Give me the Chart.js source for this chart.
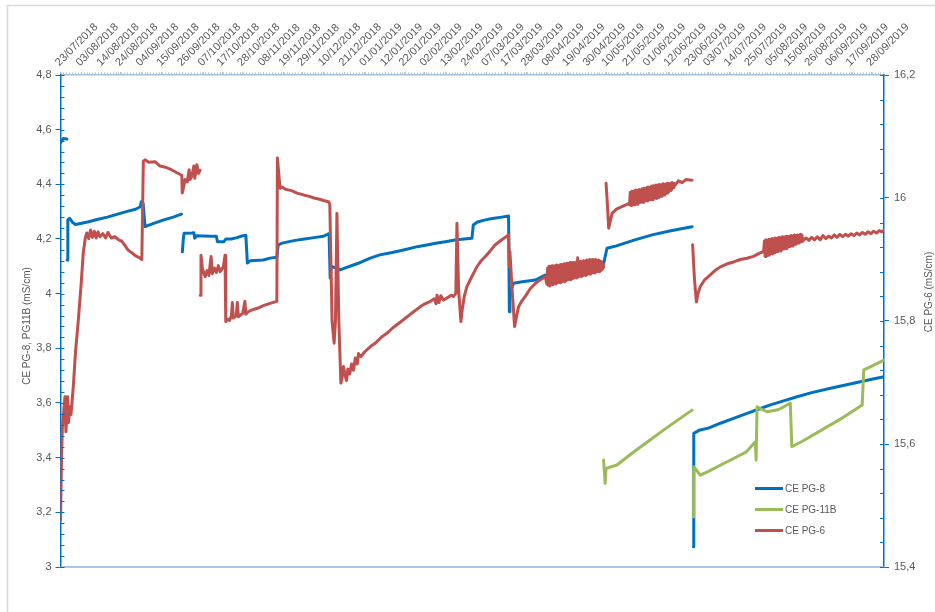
<!DOCTYPE html>
<html>
<head>
<meta charset="utf-8">
<script src="https://cdn.jsdelivr.net/npm/chart.js@4.4.1/dist/chart.umd.min.js"></script>
<style>
  html, body { margin: 0; padding: 0; background: #fff; }
  #wrap { position: relative; width: 935px; height: 612px; }
</style>
</head>
<body>
<div id="wrap"><canvas id="ceChart" width="935" height="612"></canvas></div>
<script>
// x values are days counted from 23/07/2018
const tickLabels = ['23/07/2018','03/08/2018','14/08/2018','24/08/2018','04/09/2018','15/09/2018','26/09/2018',
  '07/10/2018','17/10/2018','28/10/2018','08/11/2018','19/11/2018','29/11/2018','10/12/2018','21/12/2018',
  '01/01/2019','12/01/2019','22/01/2019','02/02/2019','13/02/2019','24/02/2019','07/03/2019','17/03/2019',
  '28/03/2019','08/04/2019','19/04/2019','30/04/2019','10/05/2019','21/05/2019','01/06/2019','12/06/2019',
  '23/06/2019','03/07/2019','14/07/2019','25/07/2019','05/08/2019','15/08/2019','26/08/2019','06/09/2019',
  '17/09/2019','28/09/2019'];

const seriesNames = ['CE PG-8', 'CE PG-11B', 'CE PG-6'];

// CE PG-8 (left axis)
const pg8 = [
  [0, 4.552], [1.5, 4.568], [3.4, 4.566], [3.45, null],
  [3.5, 4.123], [3.9, 4.27], [4.8, 4.276], [6.5, 4.26], [8, 4.253], [10, 4.256], [15, 4.263], [20, 4.272],
  [25, 4.28], [30, 4.29], [35, 4.3], [40, 4.309], [42.5, 4.318], [43.0, 4.336], [44.0, 4.33], [45.0, 4.245],
  [50, 4.258], [55, 4.27], [60, 4.28], [64.4, 4.291], [64.6, null],
  [64.9, 4.153], [65.4, 4.2], [65.8, 4.221], [70, 4.222], [71, 4.223], [71.5, 4.203], [72.5, 4.212], [80, 4.21],
  [83, 4.21], [83.6, 4.19], [87, 4.19], [88, 4.2], [91, 4.2], [94, 4.205], [97, 4.212], [98.7, 4.213],
  [99.5, 4.112], [101, 4.12], [108, 4.123], [111.6, 4.13], [115.2, 4.133], [115.9, 4.178], [118, 4.185],
  [125, 4.195], [130, 4.2], [135, 4.205], [140, 4.21], [143.0, 4.22], [143.6, 4.057], [144.2, 4.1], [146, 4.095],
  [148.9, 4.087], [152, 4.095], [156, 4.105], [160, 4.115], [164.9, 4.13], [170, 4.142], [176, 4.15],
  [182.6, 4.16], [190, 4.172], [195, 4.178], [200.6, 4.185], [205, 4.19], [210, 4.196], [215, 4.2],
  [219.1, 4.203], [219.8, 4.251], [222, 4.262], [226.2, 4.27], [230, 4.275], [235, 4.28], [238.6, 4.284],
  [239.0, 3.934], [239.3, 4.0], [241.2, 4.038], [245, 4.043], [252.8, 4.05], [258.1, 4.068], [262, 4.075],
  [270.4, 4.087], [280, 4.1], [289.2, 4.11], [291.0, 4.166], [296, 4.175], [305, 4.195], [315, 4.215],
  [325, 4.23], [336.3, 4.245], [336.6, null],
  [337.0, 3.074], [337.2, 3.489], [340, 3.5], [345, 3.508], [351.4, 3.526], [358, 3.543], [365.6, 3.562],
  [372, 3.578], [378, 3.593], [385, 3.608], [392.2, 3.623], [400, 3.638], [410, 3.654], [418, 3.666],
  [425.9, 3.678], [432, 3.687], [438.5, 3.696]
];

// CE PG-11B (left axis)
const pg11b = [
  [289.2, 3.391], [290.0, 3.306], [290.5, 3.361], [296.3, 3.373], [305, 3.42], [315, 3.47], [325, 3.52],
  [336.3, 3.574], [336.6, null],
  [337.0, 3.184], [337.2, 3.367], [340.7, 3.336], [345, 3.35], [355, 3.385], [365, 3.42], [370, 3.458],
  [370.4, 3.391], [370.9, 3.586], [376.2, 3.568], [382, 3.575], [388.6, 3.599], [389.4, 3.44], [395, 3.46],
  [405, 3.5], [415, 3.54], [426.9, 3.593], [427.7, 3.721], [432, 3.735], [438.5, 3.757]
];

// CE PG-6 (right axis)
const pg6 = [
  [0, 15.476], [0.6, 15.585], [1.0, 15.628], [2.4, 15.677], [2.9, 15.62], [3.8, 15.677], [4.3, 15.635],
  [5.0, 15.66], [5.6, 15.648], [6.8, 15.693], [8.0, 15.75], [9.5, 15.802], [11.0, 15.86], [12.1, 15.91],
  [13.2, 15.935], [14.0, 15.943], [15.0, 15.934], [16.0, 15.948], [17.0, 15.936], [18.0, 15.946],
  [19.0, 15.935], [20.0, 15.945], [21.0, 15.937], [22.5, 15.942], [24.0, 15.935], [25.3, 15.944],
  [27, 15.935], [29, 15.937], [31, 15.932], [32.6, 15.93], [34, 15.924], [36.1, 15.915], [38, 15.911],
  [40, 15.906], [42, 15.903], [43.3, 15.9],
  [44.1, 16.06], [45, 16.062], [47, 16.058], [50.3, 16.059], [53, 16.052], [56, 16.05], [59, 16.046],
  [62, 16.041], [64.6, 16.037], [64.8, 16.008], [65.5, 16.017], [66.3, 16.03], [67.5, 16.026], [68.5, 16.046],
  [69, 16.03], [70, 16.036], [71, 16.052], [71.5, 16.032], [72.6, 16.054], [73.5, 16.04], [74.3, 16.045],
  [74.35, null],
  [74.4, 15.842], [74.8, 15.907], [75.6, 15.885], [77.0, 15.872], [78, 15.882], [79, 15.874], [80.2, 15.905],
  [80.8, 15.877], [82, 15.886], [83, 15.879], [84.1, 15.89], [85, 15.88], [86.7, 15.888], [87.6, 15.907],
  [88.0, 15.799], [89, 15.803], [90, 15.801], [91, 15.808], [91.5, 15.83], [92, 15.805], [93.5, 15.808],
  [94.2, 15.83], [94.7, 15.807], [96, 15.81], [97, 15.812], [98.2, 15.832], [98.7, 15.811], [100, 15.815],
  [102, 15.818], [104, 15.82], [106, 15.822], [108, 15.825], [110, 15.827], [112, 15.829], [115.2, 15.832],
  [115.5, 16.065], [116.9, 16.016], [118, 16.018], [120, 16.014], [123, 16.012], [126, 16.008],
  [129.4, 16.005], [132, 16.003], [135, 16.0], [138, 15.998], [140, 15.996], [142.7, 15.994], [143.4, 15.99],
  [144.6, 15.8], [145.7, 15.764], [146.4, 15.8], [147.2, 15.975], [148.2, 15.8], [149.3, 15.699],
  [150, 15.71], [150.7, 15.726], [151.5, 15.712], [152.3, 15.703], [153, 15.722], [154, 15.714],
  [155, 15.73], [156, 15.72], [157, 15.74], [158, 15.73], [158.7, 15.747], [160, 15.742], [162, 15.75],
  [164.9, 15.758], [168, 15.765], [171, 15.774], [173.8, 15.78], [177, 15.789], [180, 15.796],
  [182.6, 15.802], [185, 15.808], [188, 15.815], [191.5, 15.823], [194, 15.828], [197, 15.832],
  [199, 15.836], [200, 15.828], [200.5, 15.842], [201.5, 15.83], [202.5, 15.841], [204, 15.834],
  [206, 15.838], [208, 15.842], [209.3, 15.84], [210.5, 15.845], [211.1, 15.959], [212, 15.85],
  [213.2, 15.799], [214, 15.82], [215, 15.84], [216.4, 15.856], [219, 15.872], [221.7, 15.888],
  [224, 15.898], [226.2, 15.905], [228.8, 15.914], [231.5, 15.924], [235, 15.932], [238.6, 15.94],
  [239.0, 15.888], [239.3, 15.913], [240.5, 15.85], [241.8, 15.791], [243, 15.81], [243.9, 15.823],
  [245.5, 15.832], [247.5, 15.84], [250, 15.852], [252.8, 15.861], [255, 15.866], [258.1, 15.872],
  // noisy stretch, April 2019
  [259.0, 15.860], [259.4, 15.886], [259.8, 15.858], [260.2, 15.889], [260.6, 15.857], [261.0, 15.887],
  [261.4, 15.860], [261.8, 15.890], [262.2, 15.859], [262.6, 15.888], [263.0, 15.861], [263.4, 15.890],
  [263.8, 15.860], [264.2, 15.891], [264.6, 15.862], [265.0, 15.889], [265.4, 15.863], [265.8, 15.891],
  [266.2, 15.862], [266.6, 15.892], [267.0, 15.864], [267.4, 15.890], [267.8, 15.865], [268.2, 15.893],
  [268.6, 15.864], [269.0, 15.892], [269.4, 15.866], [269.8, 15.894], [270.2, 15.867], [270.6, 15.892],
  [271.0, 15.868], [271.4, 15.895], [271.8, 15.867], [272.2, 15.893], [272.6, 15.869], [273.0, 15.895],
  [273.4, 15.870], [273.8, 15.894], [274.2, 15.871], [274.6, 15.896], [275.0, 15.870], [275.4, 15.903],
  [275.8, 15.872], [276.2, 15.896], [276.6, 15.873], [277.0, 15.897], [277.4, 15.872], [277.8, 15.896],
  [278.2, 15.874], [278.6, 15.898], [279.0, 15.875], [279.4, 15.897], [279.8, 15.874], [280.2, 15.899],
  [280.6, 15.876], [281.0, 15.898], [281.4, 15.877], [281.8, 15.900], [282.2, 15.876], [282.6, 15.899],
  [283.0, 15.878], [283.4, 15.900], [283.8, 15.879], [284.2, 15.899], [284.6, 15.878], [285.0, 15.900],
  [285.4, 15.880], [285.8, 15.898], [286.2, 15.881], [286.6, 15.899], [287.0, 15.880], [287.4, 15.897],
  [287.8, 15.882], [288.2, 15.896], [288.6, 15.884], [289.0, 15.892], [289.2, 15.888], [289.5, null],
  [290.5, 16.024], [291.2, 15.99], [291.9, 15.951], [293, 15.966], [293.7, 15.975], [296, 15.982],
  [299, 15.986], [302.5, 15.991],
  // noisy stretch, May 2019
  [303.0, 15.989], [303.4, 16.009], [303.8, 15.988], [304.2, 16.011], [304.6, 15.990], [305.0, 16.010],
  [305.4, 15.989], [305.8, 16.012], [306.2, 15.991], [306.6, 16.013], [307.0, 15.990], [307.4, 16.012],
  [307.8, 15.992], [308.2, 16.014], [308.6, 15.993], [309.0, 16.013], [309.4, 15.994], [309.8, 16.015],
  [310.2, 15.993], [310.6, 16.016], [311.0, 15.995], [311.4, 16.015], [311.8, 15.996], [312.2, 16.017],
  [312.6, 15.995], [313.0, 16.018], [313.4, 15.997], [313.8, 16.017], [314.2, 15.998], [314.6, 16.019],
  [315.0, 15.997], [315.4, 16.020], [315.8, 15.999], [316.2, 16.019], [316.6, 16.000], [317.0, 16.021],
  [317.4, 15.999], [317.8, 16.020], [318.2, 16.001], [318.6, 16.022], [319.0, 16.002], [319.4, 16.021],
  [319.8, 16.003], [320.2, 16.022], [320.6, 16.004], [321.0, 16.023], [321.4, 16.005], [321.8, 16.022],
  [322.2, 16.007], [322.6, 16.023], [323.0, 16.008], [323.4, 16.024], [323.8, 16.010], [324.2, 16.023],
  [324.6, 16.012], [325.0, 16.024], [325.4, 16.014], [325.8, 16.025], [326.2, 16.017], [326.6, 16.024],
  [327.0, 16.02], [329.1, 16.028], [331, 16.025], [333, 16.03], [336.3, 16.029], [336.4, null],
  [336.6, 15.924], [337, 15.9], [337.6, 15.867], [338.6, 15.831], [339.5, 15.845], [340.7, 15.856],
  [343, 15.867], [346, 15.875], [348.5, 15.882], [351.4, 15.888], [355, 15.893], [358.4, 15.896],
  [362, 15.9], [365.6, 15.902], [369, 15.905], [372, 15.91], [374.4, 15.913],
  // noisy stretch, August 2019
  [374.8, 15.930], [375.2, 15.905], [375.6, 15.932], [376.0, 15.906], [376.4, 15.931], [376.8, 15.907],
  [377.2, 15.933], [377.6, 15.908], [378.0, 15.932], [378.4, 15.910], [378.8, 15.934], [379.2, 15.909],
  [379.6, 15.933], [380.0, 15.911], [380.4, 15.935], [380.8, 15.912], [381.2, 15.934], [381.6, 15.913],
  [382.0, 15.935], [382.4, 15.915], [382.8, 15.936], [383.2, 15.914], [383.6, 15.935], [384.0, 15.916],
  [384.4, 15.937], [384.8, 15.917], [385.2, 15.936], [385.6, 15.919], [386.0, 15.937], [386.4, 15.918],
  [386.8, 15.938], [387.2, 15.920], [387.6, 15.937], [388.0, 15.921], [388.4, 15.938], [388.8, 15.923],
  [389.2, 15.939], [389.6, 15.922], [390.0, 15.938], [390.4, 15.924], [390.8, 15.940], [391.2, 15.925],
  [391.6, 15.939], [392.0, 15.926], [392.4, 15.940], [392.8, 15.927], [393.2, 15.939], [393.6, 15.928],
  [394.0, 15.941], [394.4, 15.929], [394.8, 15.940], [395.2, 15.930],
  [397, 15.935], [398.5, 15.931], [400, 15.936], [401.5, 15.932], [403, 15.937], [404.5, 15.932],
  [406, 15.939], [407.5, 15.934], [409, 15.938], [410.5, 15.935], [412, 15.940], [413.5, 15.936],
  [415, 15.941], [416.5, 15.937], [418, 15.941], [419.5, 15.938], [421, 15.942], [422.5, 15.939],
  [424, 15.943], [425.5, 15.940], [427, 15.944], [428.5, 15.941], [430, 15.945], [431.5, 15.942],
  [433, 15.946], [434.5, 15.943], [436, 15.947], [437.5, 15.945], [438.5, 15.948]
];

const colors = ['#0070C0', '#9BBB59', '#C0504D'];
const axisBlue = '#0070C0';
const textGrey = '#595959';
const numFont = { family: "'Liberation Sans', Arial, sans-serif", size: 11 };
const txtFont = "10px 'Liberation Sans', Arial, sans-serif";

// day offset of a dd/mm/yyyy label
const start = Date.UTC(2018, 6, 23);
function dayOf(label) {
  const [d, m, y] = label.split('/').map(Number);
  return Math.round((Date.UTC(y, m - 1, d) - start) / 86400000);
}
const tickDays = tickLabels.map(dayOf);

const toPoints = arr => arr.map(p => ({ x: p[0], y: p[1] }));
const comma = v => String(Math.round(v * 10) / 10).replace('.', ',');

// frame, minor ticks, bottom line, axis titles and legend
const decor = {
  id: 'decor',
  beforeDraw(chart) {
    const ctx = chart.ctx;
    ctx.save();
    ctx.fillStyle = '#fff';
    ctx.fillRect(0, 0, chart.width, chart.height);
    ctx.strokeStyle = '#D9D9D9';
    ctx.lineWidth = 1.5;
    ctx.strokeRect(7.5, 5.5, 1000, 1000);
    ctx.restore();
  },
  afterDraw(chart) {
    const { ctx, chartArea: a, scales } = chart;
    ctx.save();

    // bottom edge of the plot
    ctx.strokeStyle = '#8DB4E2';
    ctx.lineWidth = 1.5;
    ctx.beginPath();
    ctx.moveTo(a.left, a.bottom);
    ctx.lineTo(a.right, a.bottom);
    ctx.stroke();

    // dotted minor marks on the date axis
    ctx.strokeStyle = '#BFBFBF';
    ctx.lineWidth = 1;
    for (let d = 0; d <= scales.x.max; d += 10.8 / 7) {
      const px = Math.round(scales.x.getPixelForValue(d)) + 0.5;
      ctx.beginPath();
      ctx.moveTo(px, a.top - 2.5);
      ctx.lineTo(px, a.top - 0.5);
      ctx.stroke();
    }

    // minor ticks, inside the plot
    ctx.strokeStyle = axisBlue;
    ctx.lineWidth = 1;
    for (let i = 0; i <= 45; i++) {
      const py = Math.round(scales.y.getPixelForValue(3 + i * 0.04)) + 0.5;
      ctx.beginPath();
      ctx.moveTo(a.left, py);
      ctx.lineTo(a.left + 4, py);
      ctx.stroke();
    }
    for (let i = 0; i <= 20; i++) {
      const py = Math.round(scales.y2.getPixelForValue(15.4 + i * 0.04)) + 0.5;
      ctx.beginPath();
      ctx.moveTo(a.right - 4, py);
      ctx.lineTo(a.right, py);
      ctx.stroke();
    }

    // axis titles
    ctx.fillStyle = textGrey;
    ctx.font = txtFont;
    ctx.textAlign = 'center';
    ctx.textBaseline = 'middle';
    ctx.save();
    ctx.translate(27, 326);
    ctx.rotate(-Math.PI / 2);
    ctx.fillText('CE PG-8, PG11B (mS/cm)', 0, 0);
    ctx.restore();
    ctx.save();
    ctx.translate(929, 292);
    ctx.rotate(-Math.PI / 2);
    ctx.fillText('CE PG-6 (mS/cm)', 0, 0);
    ctx.restore();

    // legend
    ctx.textAlign = 'left';
    seriesNames.forEach((name, i) => {
      const ly = 488.5 + i * 21;
      ctx.strokeStyle = colors[i];
      ctx.lineWidth = 3;
      ctx.beginPath();
      ctx.moveTo(755, ly);
      ctx.lineTo(783, ly);
      ctx.stroke();
      ctx.fillStyle = textGrey;
      ctx.fillText(name, 785, ly + 0.5);
    });
    ctx.restore();
  }
};

const ctx = document.getElementById('ceChart').getContext('2d');
const ceChart = new Chart(ctx, {
  type: 'line',
  data: {
    datasets: [
      { label: seriesNames[0], data: toPoints(pg8), yAxisID: 'y', borderColor: colors[0], order: 2 },
      { label: seriesNames[1], data: toPoints(pg11b), yAxisID: 'y', borderColor: colors[1], order: 1 },
      { label: seriesNames[2], data: toPoints(pg6), yAxisID: 'y2', borderColor: colors[2], order: 0 }
    ]
  },
  options: {
    responsive: false,
    animation: false,
    devicePixelRatio: 1,
    spanGaps: false,
    layout: { padding: { top: 0, bottom: 45, left: 0, right: 0 } },
    elements: {
      point: { radius: 0 },
      line: { borderWidth: 3, tension: 0, borderJoinStyle: 'round', borderCapStyle: 'round', fill: false }
    },
    plugins: { legend: { display: false }, tooltip: { enabled: false } },
    scales: {
      x: {
        type: 'linear',
        position: 'top',
        min: 0,
        max: 438.5,
        afterBuildTicks: s => { s.ticks = tickDays.map(d => ({ value: d })); },
        afterFit: s => { s.height = 75; },
        ticks: {
          autoSkip: false, minRotation: 45, maxRotation: 45, padding: 3, labelOffset: 6,
          color: textGrey, font: numFont,
          callback: (v, i) => tickLabels[i]
        },
        grid: { drawOnChartArea: false, drawTicks: true, tickLength: 3, color: '#BFBFBF' },
        border: { display: true, color: '#9DC3E6', width: 1.5 }
      },
      y: {
        type: 'linear',
        position: 'left',
        min: 3,
        max: 4.8,
        afterFit: s => { s.width = 60.5; },
        ticks: { stepSize: 0.2, padding: 4, color: textGrey, font: numFont, callback: v => comma(v) },
        grid: { drawOnChartArea: false, drawTicks: true, tickLength: 5, color: axisBlue },
        border: { display: true, color: axisBlue, width: 1.5 }
      },
      y2: {
        type: 'linear',
        position: 'right',
        min: 15.4,
        max: 16.2,
        afterFit: s => { s.width = 51; },
        ticks: { stepSize: 0.2, padding: 5, color: textGrey, font: numFont, callback: v => comma(v) },
        grid: { drawOnChartArea: false, drawTicks: true, tickLength: 5, color: axisBlue },
        border: { display: true, color: axisBlue, width: 1.5 }
      }
    }
  },
  plugins: [decor]
});
</script>
</body>
</html>
